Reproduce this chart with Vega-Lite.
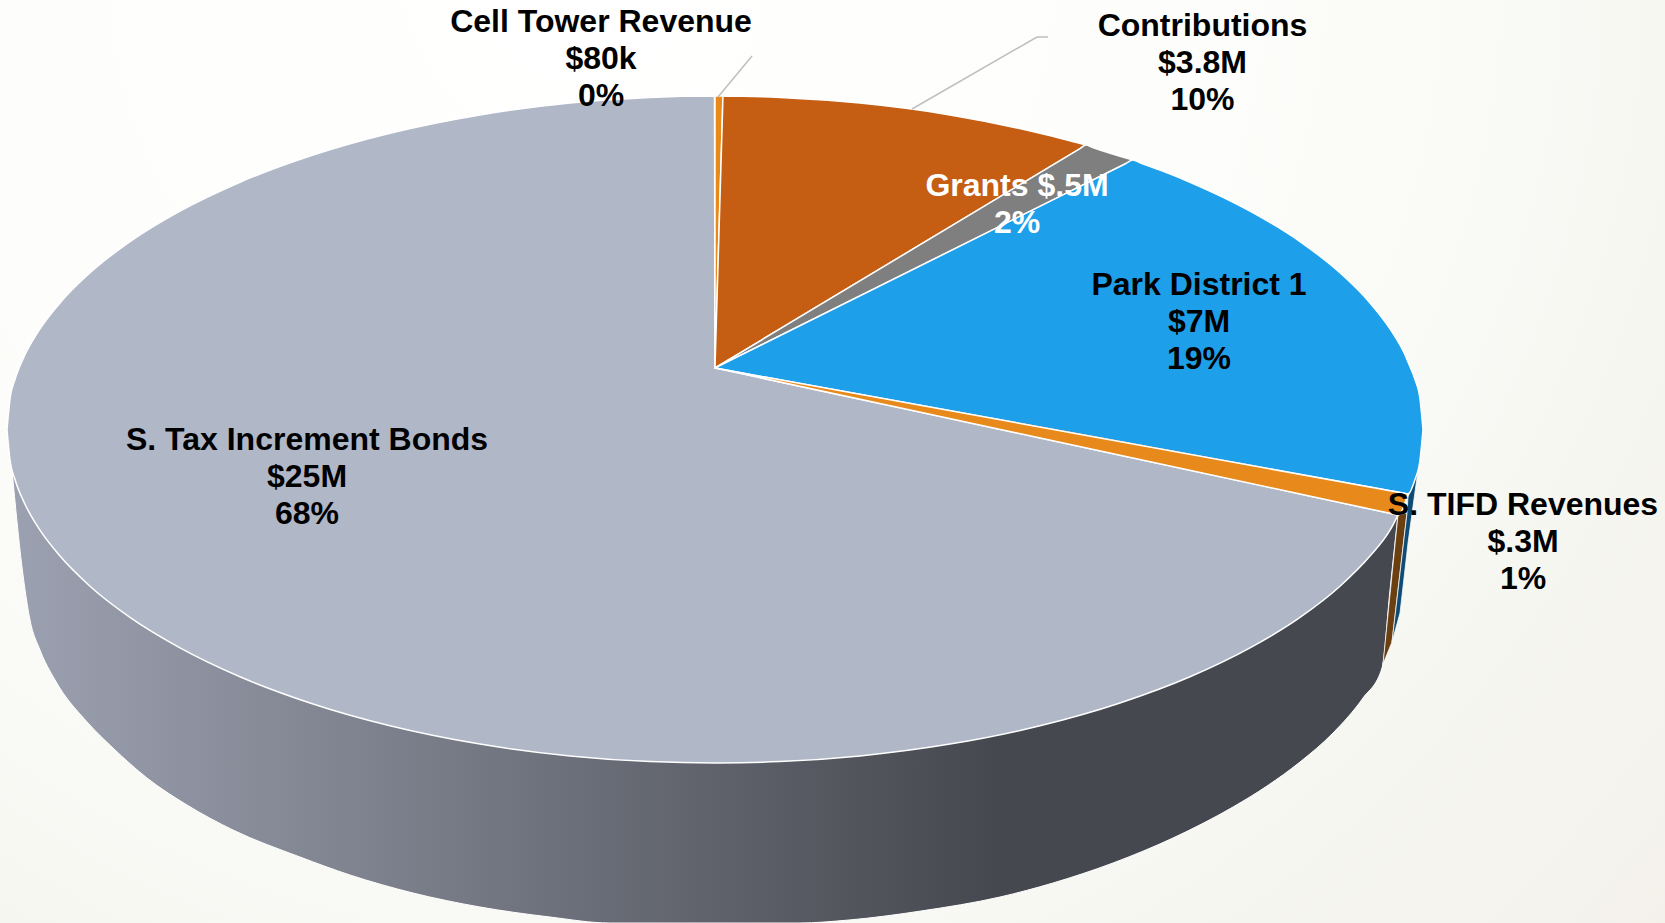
{
"$schema":"https://vega.github.io/schema/vega-lite/v6.json",
"width":1665,"height":923,"padding":0,"autosize":{"type":"none"},
"background":"#ffffff",
"config":{"view":{"stroke":null}},
"resolve":{"scale":{"color":"independent"}},
"datasets":{
"backdrop":[{"x":0,"y":0,"y2":923},{"x":1665,"y":0,"y2":923}],
"wall":[
{"x":12,"y":470,"y2":470},{"x":22,"y":495,"y2":567},{"x":30,"y":512,"y2":620},{"x":40,"y":520,"y2":650},{"x":55,"y":540,"y2":680},{"x":88,"y":575,"y2":723},{"x":113,"y":595,"y2":748},{"x":147,"y":620,"y2":778},{"x":187,"y":645,"y2":805},{"x":233,"y":670,"y2":830},{"x":300,"y":695,"y2":857},{"x":350,"y":710,"y2":875},{"x":413,"y":725,"y2":893},{"x":480,"y":740,"y2":907},{"x":550,"y":750,"y2":917},{"x":610,"y":755,"y2":923},{"x":700,"y":760,"y2":923},{"x":799,"y":755,"y2":923},{"x":849,"y":750,"y2":920},{"x":921,"y":740,"y2":911},{"x":1000,"y":725,"y2":897},{"x":1053,"y":710,"y2":883},{"x":1113,"y":690,"y2":863},{"x":1173,"y":665,"y2":838},{"x":1233,"y":630,"y2":807},{"x":1267,"y":610,"y2":786},{"x":1300,"y":590,"y2":762},{"x":1333,"y":565,"y2":733},{"x":1363,"y":540,"y2":698},{"x":1382,"y":525,"y2":668},{"x":1390,"y":520,"y2":590},{"x":1398,"y":515,"y2":515}
],
"slivers":[
{"part":"S. TIFD Revenues side","x":1383,"y":664,"y2":664},{"part":"S. TIFD Revenues side","x":1392,"y":574.6,"y2":642},{"part":"S. TIFD Revenues side","x":1398,"y":515,"y2":590},{"part":"S. TIFD Revenues side","x":1407,"y":513,"y2":513},
{"part":"Park District 1 side","x":1392,"y":642,"y2":642},{"part":"Park District 1 side","x":1400,"y":573,"y2":613},{"part":"Park District 1 side","x":1407,"y":513,"y2":552},{"part":"Park District 1 side","x":1408,"y":497,"y2":543},{"part":"Park District 1 side","x":1418,"y":470,"y2":470}
],
"slices":[
{"part":"S. Tax Increment Bonds","x":7,"y":429.5,"y2":429.5},{"part":"S. Tax Increment Bonds","x":10,"y":398.9,"y2":460.1},{"part":"S. Tax Increment Bonds","x":15,"y":379.5,"y2":479.5},{"part":"S. Tax Increment Bonds","x":25,"y":354.8,"y2":504.2},{"part":"S. Tax Increment Bonds","x":40,"y":328.8,"y2":530.2},{"part":"S. Tax Increment Bonds","x":60,"y":302.9,"y2":556.1},{"part":"S. Tax Increment Bonds","x":90,"y":272.8,"y2":586.2},{"part":"S. Tax Increment Bonds","x":130,"y":241.6,"y2":617.4},{"part":"S. Tax Increment Bonds","x":180,"y":211.1,"y2":647.9},{"part":"S. Tax Increment Bonds","x":240,"y":182.2,"y2":676.8},{"part":"S. Tax Increment Bonds","x":310,"y":156,"y2":703},{"part":"S. Tax Increment Bonds","x":390,"y":133.2,"y2":725.8},{"part":"S. Tax Increment Bonds","x":480,"y":114.9,"y2":744.1},{"part":"S. Tax Increment Bonds","x":570,"y":103.1,"y2":755.9},{"part":"S. Tax Increment Bonds","x":650,"y":97.4,"y2":761.6},{"part":"S. Tax Increment Bonds","x":714.5,"y":96,"y2":763},{"part":"S. Tax Increment Bonds","x":715,"y":368,"y2":763},{"part":"S. Tax Increment Bonds","x":718,"y":368.6,"y2":763},{"part":"S. Tax Increment Bonds","x":780,"y":382,"y2":761.6},{"part":"S. Tax Increment Bonds","x":860,"y":399.2,"y2":755.9},{"part":"S. Tax Increment Bonds","x":950,"y":418.6,"y2":744.1},{"part":"S. Tax Increment Bonds","x":1040,"y":437.9,"y2":725.8},{"part":"S. Tax Increment Bonds","x":1120,"y":455.2,"y2":703},{"part":"S. Tax Increment Bonds","x":1190,"y":470.2,"y2":676.8},{"part":"S. Tax Increment Bonds","x":1250,"y":483.1,"y2":647.9},{"part":"S. Tax Increment Bonds","x":1300,"y":493.9,"y2":617.4},{"part":"S. Tax Increment Bonds","x":1340,"y":502.5,"y2":586.2},{"part":"S. Tax Increment Bonds","x":1370,"y":509,"y2":556.1},{"part":"S. Tax Increment Bonds","x":1390,"y":513.2,"y2":530.2},{"part":"S. Tax Increment Bonds","x":1398,"y":515,"y2":515},
{"part":"Cell Tower Revenue","x":715,"y":96,"y2":368},{"part":"Cell Tower Revenue","x":723,"y":96,"y2":96},
{"part":"Contributions","x":715,"y":368,"y2":368},{"part":"Contributions","x":722.5,"y":113,"y2":363.5},{"part":"Contributions","x":723,"y":96,"y2":363.2},{"part":"Contributions","x":780,"y":97.4,"y2":328.9},{"part":"Contributions","x":860,"y":103.1,"y2":280.9},{"part":"Contributions","x":950,"y":114.9,"y2":226.8},{"part":"Contributions","x":1040,"y":133.2,"y2":172.7},{"part":"Contributions","x":1086,"y":145,"y2":145},
{"part":"Grants","x":715,"y":368,"y2":368},{"part":"Grants","x":1080,"y":148.6,"y2":186.4},{"part":"Grants","x":1086,"y":145,"y2":183.4},{"part":"Grants","x":1092,"y":147.2,"y2":180.4},{"part":"Grants","x":1133,"y":160,"y2":160},
{"part":"Park District 1","x":715,"y":368,"y2":368},{"part":"Park District 1","x":1125,"y":164,"y2":442.5},{"part":"Park District 1","x":1133,"y":160,"y2":444},{"part":"Park District 1","x":1140,"y":162.8,"y2":445.3},{"part":"Park District 1","x":1160,"y":170.1,"y2":448.9},{"part":"Park District 1","x":1190,"y":182.2,"y2":454.4},{"part":"Park District 1","x":1250,"y":211.1,"y2":465.3},{"part":"Park District 1","x":1300,"y":241.6,"y2":474.4},{"part":"Park District 1","x":1340,"y":272.8,"y2":481.6},{"part":"Park District 1","x":1370,"y":302.9,"y2":487.1},{"part":"Park District 1","x":1390,"y":328.8,"y2":490.7},{"part":"Park District 1","x":1405,"y":354.8,"y2":493.4},{"part":"Park District 1","x":1408,"y":362,"y2":494},{"part":"Park District 1","x":1415,"y":379.5,"y2":479.5},{"part":"Park District 1","x":1420,"y":398.9,"y2":460.1},{"part":"Park District 1","x":1423,"y":429.5,"y2":429.5},
{"part":"S. TIFD Revenues","x":715,"y":368,"y2":368},{"part":"S. TIFD Revenues","x":1390,"y":490.7,"y2":513.3},{"part":"S. TIFD Revenues","x":1398,"y":492.2,"y2":515},{"part":"S. TIFD Revenues","x":1408,"y":494,"y2":494}
],
"leaders":[
{"leader":"Cell Tower Revenue","x":718,"y":97,"step":1},{"leader":"Cell Tower Revenue","x":752,"y":56,"step":2},
{"leader":"Contributions","x":912,"y":109,"step":1},{"leader":"Contributions","x":1037,"y":37,"step":2},{"leader":"Contributions","x":1048,"y":37,"step":3}
],
"labels":[
{"text":"Cell Tower Revenue\n$80k\n0%","x":601,"y":22,"ink":"black"},
{"text":"Contributions\n$3.8M\n10%","x":1202.5,"y":26,"ink":"black"},
{"text":"Grants $.5M\n2%","x":1017,"y":186,"ink":"white"},
{"text":"Park District 1\n$7M\n19%","x":1199,"y":285,"ink":"black"},
{"text":"S. TIFD Revenues\n$.3M\n1%","x":1523,"y":505,"ink":"black"},
{"text":"S. Tax Increment Bonds\n$25M\n68%","x":307,"y":440,"ink":"black"}
]
},
"encoding":{
"x":{"field":"x","type":"quantitative","axis":null,"scale":{"domain":[0,1665],"nice":false,"zero":false}},
"y":{"field":"y","type":"quantitative","axis":null,"scale":{"domain":[923,0],"nice":false,"zero":false}}
},
"layer":[
{"data":{"name":"backdrop"},
 "mark":{"type":"area","fill":{"gradient":"radial","x1":0.35,"y1":0.2,"r1":0,"x2":0.35,"y2":0.2,"r2":1.05,"stops":[{"offset":0,"color":"#ffffff"},{"offset":0.38,"color":"#fdfdfb"},{"offset":0.65,"color":"#f6f6f1"},{"offset":0.83,"color":"#f3f1ea"},{"offset":1,"color":"#ece9dd"}]}},
 "encoding":{"y2":{"field":"y2"}}},
{"data":{"name":"wall"},
 "mark":{"type":"area","interpolate":"monotone","stroke":"#ffffff","strokeWidth":1,"fill":{"gradient":"linear","x1":0,"y1":0,"x2":1,"y2":0,"stops":[{"offset":0,"color":"#9ca1b1"},{"offset":0.25,"color":"#7f838f"},{"offset":0.5,"color":"#60636c"},{"offset":0.71,"color":"#46484f"},{"offset":1,"color":"#46484f"}]}},
 "encoding":{"y2":{"field":"y2"}}},
{"data":{"name":"slivers"},
 "mark":{"type":"area","stroke":"#ffffff","strokeWidth":0.75},
 "encoding":{"y2":{"field":"y2"},"color":{"field":"part","type":"nominal","legend":null,"scale":{"domain":["S. TIFD Revenues side","Park District 1 side"],"range":["#6b3f10","#0f4c75"]}}}},
{"data":{"name":"slices"},
 "mark":{"type":"area","interpolate":"monotone","stroke":"#ffffff","strokeWidth":1.5,"strokeJoin":"round"},
 "encoding":{"y2":{"field":"y2"},"color":{"field":"part","type":"nominal","legend":null,"scale":{"domain":["S. Tax Increment Bonds","Cell Tower Revenue","Contributions","Grants","Park District 1","S. TIFD Revenues"],"range":["#b0b7c7","#e8891b","#c55d13","#7f7f7f","#1e9fea","#e8891b"]}}}},
{"data":{"name":"leaders"},
 "mark":{"type":"line","stroke":"#bfbfbf","strokeWidth":1.5},
 "encoding":{"detail":{"field":"leader"},"order":{"field":"step"}}},
{"data":{"name":"labels"},
 "mark":{"type":"text","font":"Liberation Sans","fontWeight":"bold","fontSize":32,"lineBreak":"\n","lineHeight":37,"align":"center","baseline":"middle"},
 "encoding":{"text":{"field":"text"},"color":{"field":"ink","type":"nominal","legend":null,"scale":{"domain":["black","white"],"range":["#000000","#ffffff"]}}}}
]
}
